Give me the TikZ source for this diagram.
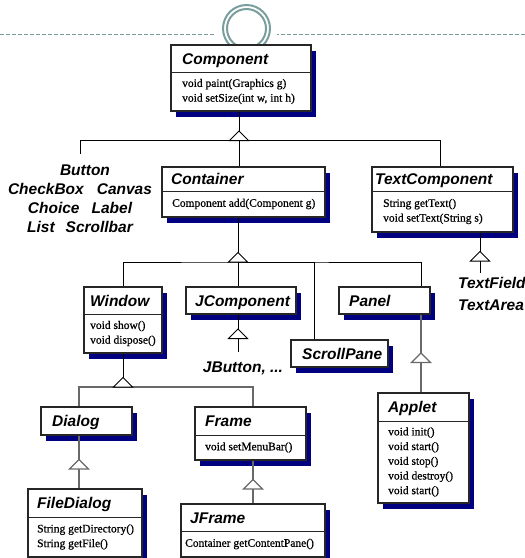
\documentclass[tikz,border=0pt]{standalone}
\usepackage{fontspec}
\setmainfont{Liberation Serif}
\setsansfont{Liberation Sans}
\newfontfamily\methfont{Liberation Serif}[FakeBold=0.7]
\usetikzlibrary{fit,calc}
\definecolor{shad}{RGB}{0,0,128}
\definecolor{ring}{RGB}{122,158,158}
\definecolor{lowc}{RGB}{105,105,105}
\tikzset{
 clsbox/.style={draw=black!85, line width=1.1pt, fill=white, inner sep=0pt},
 ttl/.style={font=\sffamily\bfseries\itshape\fontsize{15.5}{18}\selectfont, inner sep=0pt, anchor=base west},
 meth/.style={font=\methfont\fontsize{11.5}{14.7}\selectfont, align=left, inner sep=0pt, anchor=west},
 conn/.style={draw=black, line width=1pt},
 lconn/.style={draw=lowc, line width=1.1pt},
 lbl/.style={font=\sffamily\bfseries\itshape\fontsize{15.5}{19}\selectfont, inner sep=0pt},
 ringline/.style={draw=ring, line width=2pt},
 dashline/.style={draw=ring, line width=1pt, dash pattern=on 4pt off 2pt},
}
\newcommand\cls[8]{%
  \fill[shad] (#2+5,#3+6) rectangle (#4+5,#5+6);
  \node[clsbox, fit={(#2,#3)(#4,#5)}] (#1) {};
  \node[ttl] (#1-t) at (#2+#8,{(#3+#6)/2+5.5}) {#7};
}
\newcommand\mth[7]{%
  \draw[black!85, line width=1pt] (#2,#3) -- (#4,#3);
  \node[meth] (#1-m) at (#2+#7,{(#3+#5)/2}) {#6};
}
\newcommand\tri[2]{\draw[#2, fill=white] (#1) -- ++(-9.5,9.5) -- ++(19,0) -- cycle;}
\begin{document}
\begin{tikzpicture}[x=1pt,y=-1pt]
\useasboundingbox (0,0) rectangle (525,558);
% logo
\node[circle, minimum size=47pt, inner sep=0pt, ringline] (logo) at (246.5,28.5) {};
\draw[ringline] (logo.center) circle (19.5);
\coordinate (dl) at (0,34);
\coordinate (dr) at (525,34);
\draw[dashline] (dl) -- ($(dl -| logo.west)+(-8,0)$);
\draw[dashline] (dr) -- ($(dr -| logo.east)+(6,0)$);

% classes
\cls{Component}{171}{45}{311}{111}{72}{Component}{11}
\mth{Component}{171}{72}{311}{111}{void paint(Graphics g)\\void setSize(int w, int h)}{11}
\cls{Container}{162}{167}{325}{217}{191}{Container}{9}
\mth{Container}{162}{191}{325}{217}{Component add(Component g)}{10}
\cls{TextComponent}{372}{167}{513}{232}{191}{TextComponent}{3}
\mth{TextComponent}{372}{191}{513}{232}{String getText()\\void setText(String s)}{11}
\cls{Window}{84}{287}{162}{353}{314}{Window}{6}
\mth{Window}{84}{314}{162}{353}{void show()\\void dispose()}{6}
\cls{JComponent}{186}{287}{296}{314}{314}{JComponent}{9}
\cls{Panel}{339}{287}{430}{314}{314}{Panel}{10}
\cls{ScrollPane}{291}{340}{388}{367}{367}{ScrollPane}{11}
\cls{Applet}{378}{393}{469}{503}{421}{Applet}{10}
\mth{Applet}{378}{421}{469}{503}{void init()\\void start()\\void stop()\\void destroy()\\void start()}{10}
\cls{Dialog}{41}{407}{132}{435}{435}{Dialog}{11}
\cls{Frame}{195}{407}{306}{460}{435}{Frame}{10}
\mth{Frame}{195}{435}{306}{460}{void setMenuBar()}{10}
\cls{FileDialog}{28}{489}{142}{557}{517}{FileDialog}{9}
\mth{FileDialog}{28}{517}{142}{557}{String getDirectory()\\String getFile()}{9}
\cls{JFrame}{181}{504}{325}{557}{531}{JFrame}{9}
\mth{JFrame}{181}{531}{325}{557}{Container getContentPane()}{4}

% free labels
\node[lbl, align=center] (awtlist) at (80,198.5) {\hspace*{10pt}Button\\CheckBox\hspace{13pt}Canvas\\Choice\hspace{12pt}Label\\List\hspace{11pt}Scrollbar};
\node[lbl, align=left, anchor=west, font=\sffamily\bfseries\itshape\fontsize{15.5}{21.5}\selectfont] (tflist) at (458,294) {TextField\\TextArea};
\node[lbl] (jbtn) at (243,368) {JButton, ...};

% Component hierarchy
\coordinate (g1) at (239,131);
\coordinate (b1) at (239,140.5);
\coordinate (awt) at (80,154);
\draw[conn] (g1 |- Component.south) -- (g1);
\draw[conn] (awt) |- (b1) -| ([xshift=-2.5pt]TextComponent.north);
\draw[conn] (b1) -- (b1 |- Container.north);
\tri{g1}{conn}

% Container hierarchy
\coordinate (g2) at (238,252.5);
\coordinate (b2) at (238,262);
\draw[conn] (g2 |- Container.south) -- (g2);
\draw[conn] (Window.north) |- (b2) -| ([xshift=-9pt]Panel.north east);
\draw[conn] (b2) -- (b2 |- JComponent.north);
\draw[conn] ([xshift=24pt]ScrollPane.north west) |- (b2);
\tri{g2}{conn}

% TextComponent
\coordinate (g3) at (480,251.5);
\coordinate (g3b) at (480,261);
\coordinate (tf) at (480,273);
\draw[conn] (g3 |- TextComponent.south) -- (g3);
\draw[conn] (g3b) -- (tf);
\tri{g3}{conn}

% JComponent
\coordinate (g4) at (238,329);
\coordinate (g4b) at (238,338.5);
\coordinate (jb) at (238,352);
\draw[conn] (g4 |- JComponent.south) -- (g4);
\draw[conn] (g4b) -- (jb);
\tri{g4}{conn}

% Panel -> Applet
\coordinate (g5) at (421,353);
\coordinate (g5b) at (421,362.5);
\draw[lconn] (g5 |- Panel.south) -- (g5);
\draw[lconn] (g5b) -- (g5b |- Applet.north);
\tri{g5}{lconn}

% Window -> Dialog, Frame
\coordinate (g6) at (123,377.5);
\coordinate (b6) at (123,387);
\draw[conn] (g6 |- Window.south) -- (g6);
\draw[lconn] ([xshift=-7.5pt]Dialog.north) |- (b6) -| ([xshift=2.5pt]Frame.north);
\tri{g6}{conn}

% Dialog -> FileDialog
\coordinate (g7) at (79,459.5);
\coordinate (g7b) at (79,469);
\draw[lconn] (g7 |- Dialog.south) -- (g7);
\draw[lconn] (g7b) -- (g7b |- FileDialog.north);
\tri{g7}{lconn}

% Frame -> JFrame
\coordinate (g8) at (253,479.5);
\coordinate (g8b) at (253,489);
\draw[lconn] (g8 |- Frame.south) -- (g8);
\draw[lconn] (g8b) -- (g8b |- JFrame.north);
\tri{g8}{lconn}
\end{tikzpicture}
\end{document}
